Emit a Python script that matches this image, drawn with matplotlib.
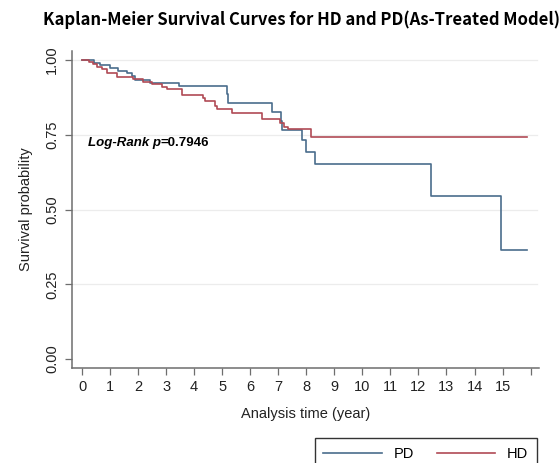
import matplotlib
matplotlib.use("Agg")
import matplotlib.pyplot as plt
from matplotlib.lines import Line2D

# Kaplan-Meier step values (time in years, survival)
pd_time = [0, 0.41, 0.64, 1.00, 1.30, 1.60, 1.77, 1.89, 2.43, 3.47, 5.17, 5.22,
           6.78, 7.10, 7.14, 7.85, 8.00, 8.32, 12.45, 14.96, 15.88]
pd_surv = [1.0, 0.991, 0.983, 0.972, 0.964, 0.955, 0.946, 0.933, 0.924, 0.912,
           0.885, 0.857, 0.827, 0.797, 0.766, 0.732, 0.693, 0.652, 0.546, 0.365, 0.365]

hd_time = [0, 0.23, 0.40, 0.52, 0.70, 0.88, 1.24, 1.83, 2.19, 2.49, 2.85, 3.02,
           3.56, 4.33, 4.39, 4.75, 4.81, 5.35, 6.42, 7.07, 7.19, 7.33, 8.17, 15.88]
hd_surv = [1.0, 0.994, 0.987, 0.978, 0.969, 0.955, 0.942, 0.935, 0.927, 0.920,
           0.911, 0.902, 0.883, 0.872, 0.863, 0.847, 0.835, 0.822, 0.803, 0.788,
           0.775, 0.768, 0.741, 0.741]

x_ticks = list(range(0, 17))
x_ticklabels = [str(i) for i in range(0, 16)] + [""]
y_ticks = [0.0, 0.25, 0.5, 0.75, 1.0]
y_ticklabels = ["0.00", "0.25", "0.50", "0.75", "1.00"]

pd_color = "#4a6d8c"
hd_color = "#b04a55"
axis_gray = "#6e6e6e"

plt.rcParams["font.family"] = ["Liberation Sans", "DejaVu Sans"]

fig = plt.figure(figsize=(5.6, 4.63), dpi=100)
ax = fig.add_axes([0.128, 0.2052, 0.8345, 0.6846])

ax.step(pd_time, pd_surv, where="post", color=pd_color, lw=1.2, zorder=3)
ax.step(hd_time, hd_surv, where="post", color=hd_color, lw=1.2, zorder=3)

ax.set_xlim(-0.37, 16.3)
ax.set_ylim(-0.03, 1.03)

for yv in [0.25, 0.5, 0.75, 1.0]:
    ax.axhline(yv, color="#ececec", lw=0.9, zorder=1, xmax=0.995)

ax.set_xticks(x_ticks)
ax.set_xticklabels(x_ticklabels, fontsize=10.5, color="#222222")
ax.set_yticks(y_ticks)
ax.set_yticklabels(y_ticklabels, fontsize=10.5, rotation=90, va="center",
                   color="#222222")
ax.tick_params(axis="both", direction="out", length=5, width=0.9,
               color=axis_gray, pad=4)

for side in ["top", "right"]:
    ax.spines[side].set_visible(False)
for side in ["left", "bottom"]:
    ax.spines[side].set_color(axis_gray)
    ax.spines[side].set_linewidth(1.1)

ax.set_xlabel("Analysis time (year)", fontsize=10.5, color="#222222", labelpad=9)
ax.set_ylabel("Survival probability", fontsize=10.5, color="#222222", labelpad=9)

t1 = ax.text(0.2, 0.722, "Log-Rank p", fontsize=9.5, fontweight="bold",
             style="italic", va="center", ha="left")
ax.annotate("=0.7946", xy=(1, 0.5), xycoords=t1, va="center", ha="left",
            fontsize=9.5, fontweight="bold")

fig.text(0.5 * (45 + 558) / 560, 1 - 20 / 463,
         "Kaplan-Meier Survival Curves for HD and PD(As-Treated Model)",
         ha="center", va="center", fontsize=12, fontweight="bold",
         family=["Noto Sans CJK KR", "DejaVu Sans"])

handles = [Line2D([], [], color=pd_color, lw=1.2),
           Line2D([], [], color=hd_color, lw=1.2)]
leg = fig.legend(handles, ["PD", "HD"], loc="upper right",
                 bbox_to_anchor=(537 / 560, 1 - 438 / 463), ncol=2,
                 frameon=True, fancybox=False, edgecolor="black",
                 fontsize=10.5, handlelength=4.0, handletextpad=0.8,
                 columnspacing=1.6, borderpad=0.6, borderaxespad=0)
leg.get_frame().set_linewidth(1.0)

fig.savefig("out.png", dpi=100)
